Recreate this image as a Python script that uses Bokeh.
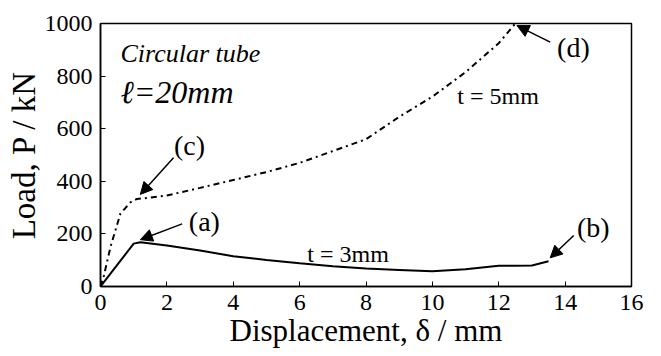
import math
from bokeh.plotting import figure
from bokeh.models import Label, Arrow, NormalHead, FixedTicker, Range1d, LinearAxis
from bokeh.embed import file_html
from bokeh.resources import INLINE

# t = 3 mm (solid)
disp_3mm = [0, 1.0, 1.2, 2, 3, 4, 5, 6, 7, 8, 9, 10, 11, 12, 12.5, 13, 13.5]
load_3mm = [0, 163, 168, 156, 137, 115, 101, 88, 77, 68, 63, 58, 66, 79, 79, 80, 96]

# t = 5 mm (dashed)
disp_5mm = [0, 0.1, 0.3, 0.6, 0.9, 1.1, 1.5, 2, 3, 4, 5, 6, 7, 8, 9, 10, 11, 12, 12.5]
load_5mm = [0, 40, 150, 277, 320, 333, 338, 346, 375, 405, 435, 470, 515, 560, 645, 722, 815, 925, 1000]

x_ticks = [0, 2, 4, 6, 8, 10, 12, 14, 16]
y_ticks = [0, 200, 400, 600, 800, 1000]

SERIF = "'Liberation Serif'"

p = figure(width=655, height=356, min_border_left=100, min_border_right=24,
           min_border_top=23, min_border_bottom=70,
           x_range=Range1d(0, 16), y_range=Range1d(0, 1000),
           x_axis_location=None, y_axis_location=None,
           output_backend="svg", toolbar_location=None)
p.xgrid.visible = False
p.ygrid.visible = False
p.outline_line_color = "black"
p.outline_line_width = 1.5

common = dict(axis_line_width=1.5, axis_line_color="black",
              major_tick_in=5, major_tick_out=0, minor_tick_in=0, minor_tick_out=0,
              major_tick_line_color="black",
              major_label_text_font=SERIF,
              major_label_text_font_size="24px", major_label_text_color="black",
              axis_label_text_font=SERIF, axis_label_text_font_style="normal",
              axis_label_text_color="black")

xaxis = LinearAxis(ticker=FixedTicker(ticks=x_ticks),
                   major_label_standoff=8, axis_label="Displacement, \u03b4 / mm",
                   axis_label_standoff=0, axis_label_text_font_size="31px", **common)
yaxis = LinearAxis(ticker=FixedTicker(ticks=y_ticks),
                   major_label_standoff=8, axis_label="Load, P / kN",
                   axis_label_standoff=0, axis_label_text_font_size="33px", **common)
p.add_layout(xaxis, "below")
p.add_layout(yaxis, "left")

p.line(disp_3mm, load_3mm, line_color="black", line_width=2)
p.line(disp_5mm, load_5mm, line_color="black", line_width=2, line_dash="6 4 2 4")

def lab(x, y, t, size="24px", style="normal", align="center", baseline="middle"):
    p.add_layout(Label(x=x, y=y, text=t, text_font=SERIF, text_font_size=size,
                       text_font_style=style, text_align=align, text_baseline=baseline,
                       text_color="black"))

lab(3.13, 247, "(a)", "28px")
lab(14.85, 224, "(b)", "28px")
lab(2.68, 536, "(c)", "28px")
lab(14.25, 909, "(d)", "28px")
lab(10.75, 726, "t = 5mm", "24px", align="left")
lab(6.23, 125, "t = 3mm", "24px", align="left")
lab(0.60, 886, "Circular tube", "26px", style="italic", align="left")
lab(0.60, 741, "\u2113=20mm", "32px", style="italic", align="left")

def arr(x0, y0, x1, y1):
    p.add_layout(Arrow(end=NormalHead(size=12, fill_color="black", line_color="black"),
                       x_start=x0, y_start=y0, x_end=x1, y_end=y1,
                       line_color="black", line_width=1.5))

arr(2.46, 238, 1.20, 178)
arr(2.20, 490, 1.20, 350)
arr(13.55, 929, 12.55, 992)
arr(14.26, 194, 13.55, 109)

open("out.html", "w").write(file_html(p, INLINE))
